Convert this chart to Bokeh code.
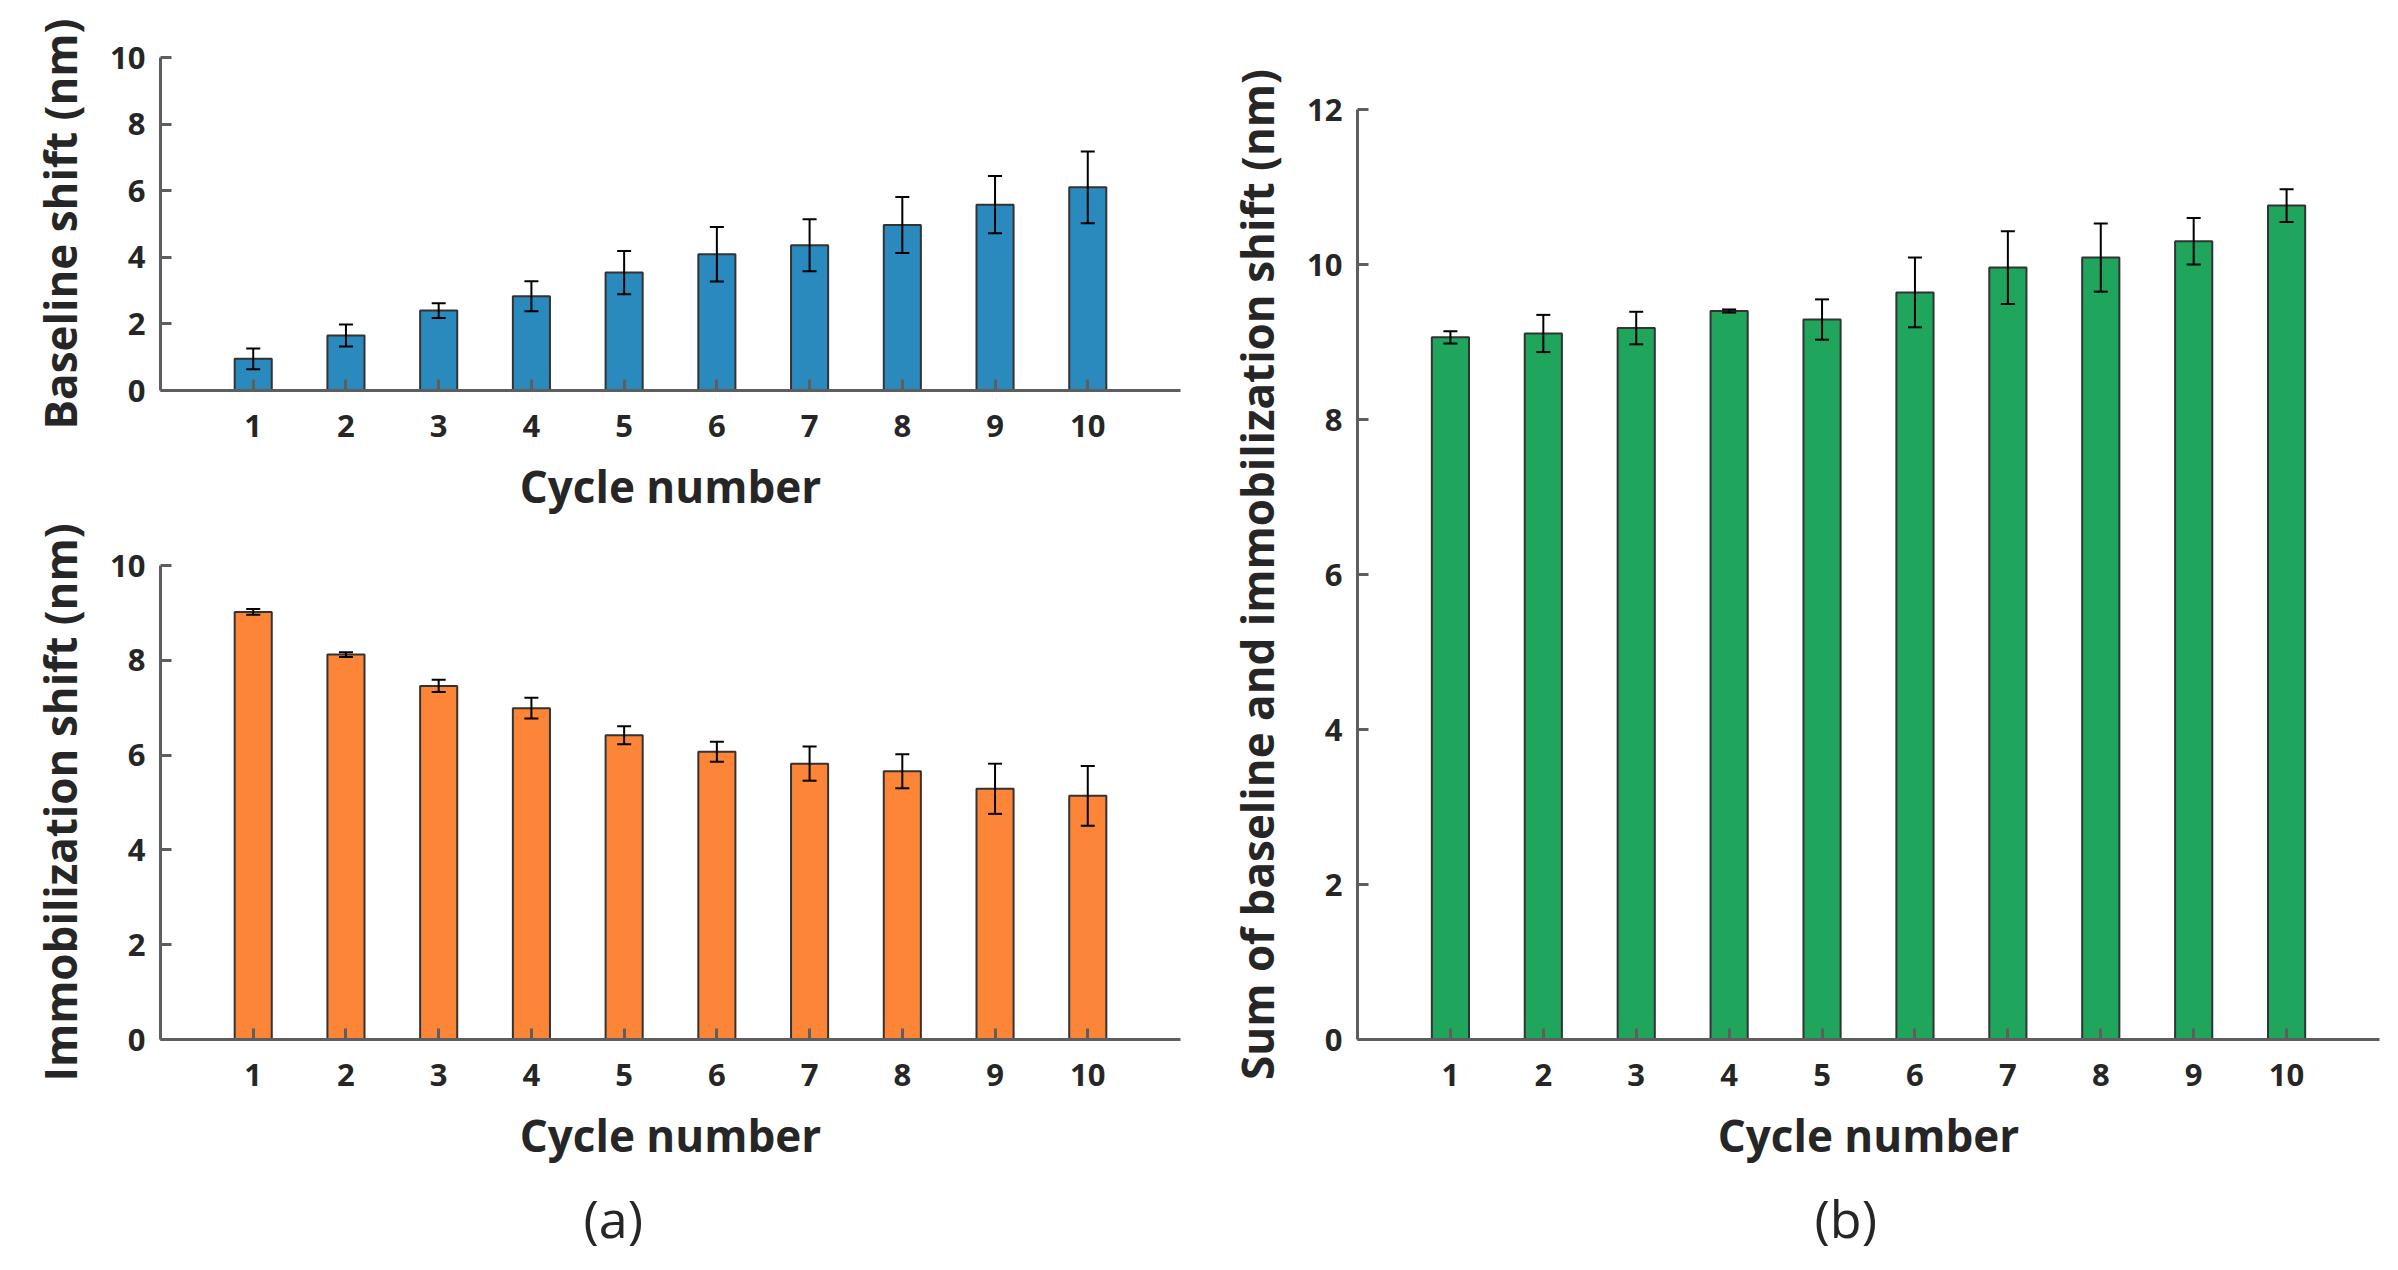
from bokeh.plotting import figure
from bokeh.layouts import row, column
from bokeh.models import ColumnDataSource, Whisker, FixedTicker, Range1d, TeeHead, Title
from bokeh.embed import file_html
from bokeh.resources import INLINE

# ---------------- data ----------------
cycles = [1, 2, 3, 4, 5, 6, 7, 8, 9, 10]
baseline_shift = [0.95, 1.65, 2.40, 2.83, 3.54, 4.09, 4.36, 4.97, 5.58, 6.10]
baseline_err = [0.31, 0.33, 0.22, 0.45, 0.65, 0.82, 0.78, 0.84, 0.86, 1.08]
immob_shift = [9.02, 8.12, 7.46, 6.99, 6.42, 6.07, 5.82, 5.66, 5.29, 5.14]
immob_err = [0.06, 0.05, 0.13, 0.22, 0.19, 0.21, 0.36, 0.36, 0.53, 0.63]
sum_shift = [9.06, 9.11, 9.18, 9.40, 9.29, 9.64, 9.96, 10.09, 10.30, 10.76]
sum_err = [0.08, 0.24, 0.21, 0.02, 0.26, 0.45, 0.47, 0.44, 0.30, 0.21]

x_title = "Cycle number"
y_title_top = "Baseline shift (nm)"
y_title_bottom = "Immobilization shift (nm)"
y_title_right = "Sum of baseline and immobilization shift (nm)"
panel_a = "(a)"
panel_b = "(b)"

BLUE = "#2b8abd"
ORANGE = "#fd8538"
GREEN = "#1fa55c"
AXIS = "#5e5e5e"
TEXT = "#262626"
FONT = "Open Sans"


def make_panel(vals, errs, color, ymax, ylabel, fw, fh, left, right, top, bottom):
    p = figure(frame_width=fw, frame_height=fh,
               x_range=Range1d(0, 11), y_range=Range1d(0, ymax),
               output_backend="svg", toolbar_location=None,
               min_border_left=left, min_border_right=right,
               min_border_top=top, min_border_bottom=bottom)
    p.outline_line_color = None
    p.background_fill_color = "white"
    p.border_fill_color = "white"
    p.xgrid.visible = False
    p.ygrid.visible = False

    src = ColumnDataSource(dict(
        x=cycles, top=vals,
        upper=[v + e for v, e in zip(vals, errs)],
        lower=[v - e for v, e in zip(vals, errs)],
    ))
    p.vbar(x="x", top="top", width=0.4, source=src,
           fill_color=color, line_color="#333333", line_width=2)
    w = Whisker(base="x", upper="upper", lower="lower", source=src,
                line_color="black", line_width=2, level="overlay",
                upper_head=TeeHead(size=14, line_color="black", line_width=2),
                lower_head=TeeHead(size=14, line_color="black", line_width=2))
    p.add_layout(w)

    p.xaxis.ticker = FixedTicker(ticks=cycles)
    p.yaxis.ticker = FixedTicker(ticks=list(range(0, ymax + 1, 2)))
    p.xaxis.axis_label = x_title
    p.yaxis.axis_label = ylabel
    for ax in (p.xaxis[0], p.yaxis[0]):
        ax.axis_line_width = 3
        ax.axis_line_color = AXIS
        ax.major_tick_in = 11
        ax.major_tick_out = 0
        ax.major_tick_line_width = 3
        ax.major_tick_line_color = AXIS
        ax.minor_tick_line_color = None
        ax.major_label_text_font = FONT
        ax.major_label_text_font_size = "31px"
        ax.major_label_text_font_style = "bold"
        ax.major_label_text_color = TEXT
        ax.axis_label_text_font = FONT
        ax.axis_label_text_font_size = "44px"
        ax.axis_label_text_font_style = "bold"
        ax.axis_label_text_color = TEXT
    p.yaxis.major_label_standoff = 15
    p.xaxis.major_label_standoff = 24
    p.yaxis.axis_label_standoff = 17
    p.xaxis.axis_label_standoff = 16
    return p


p1 = make_panel(baseline_shift, baseline_err, BLUE, 10, y_title_top,
                1020, 333, 160, 20, 57, 130)
p2 = make_panel(immob_shift, immob_err, ORANGE, 10, y_title_bottom,
                1020, 474, 160, 20, 45, 223)
p3 = make_panel(sum_shift, sum_err, GREEN, 12, y_title_right,
                1022, 930, 157, 11, 109, 223)

ta = Title(text=panel_a, align="left", offset=423, standoff=24,
           text_font=FONT, text_font_size="52px", text_font_style="normal",
           text_color=TEXT)
p2.add_layout(ta, "below")
tb = Title(text=panel_b, align="left", offset=457, standoff=24,
           text_font=FONT, text_font_size="52px", text_font_style="normal",
           text_color=TEXT)
p3.add_layout(tb, "below")

layout = row(column(p1, p2), p3)
open("out.html", "w").write(file_html(layout, INLINE))
